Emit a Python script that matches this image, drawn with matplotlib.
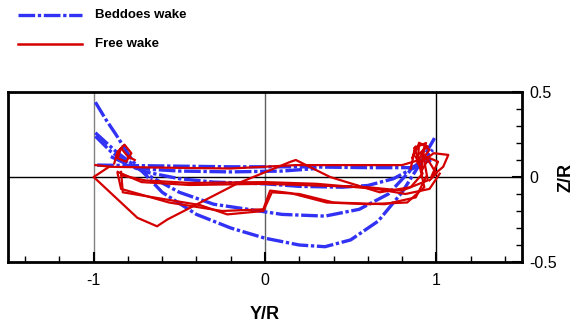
import matplotlib
matplotlib.use("Agg")
import matplotlib.pyplot as plt
from matplotlib.lines import Line2D
from matplotlib.ticker import MultipleLocator

plt.rcParams['font.family'] = ['Liberation Sans', 'DejaVu Sans']

# ---- Beddoes wake curves (Y/R, Z/R) ----
bed1_y = [-0.99, -0.93, -0.87, -0.77, -0.6, -0.4, -0.2, 0.0, 0.2, 0.35, 0.5, 0.66, 0.8, 0.9, 0.99]
bed1_z = [0.44, 0.34, 0.25, 0.09, -0.09, -0.22, -0.30, -0.36, -0.40, -0.41, -0.37, -0.26, -0.09, 0.07, 0.23]
bed2_y = [-0.99, -0.87, -0.7, -0.5, -0.3, -0.1, 0.1, 0.35, 0.55, 0.72, 0.85, 0.98]
bed2_z = [0.26, 0.15, 0.02, -0.09, -0.16, -0.19, -0.22, -0.23, -0.19, -0.10, 0.04, 0.16]
bed3_y = [-0.99, -0.9, -0.8, -0.7, -0.5, -0.3, 0.0, 0.2, 0.45, 0.6, 0.75, 0.88, 0.96]
bed3_z = [0.24, 0.15, 0.08, 0.03, -0.01, -0.03, -0.04, -0.055, -0.06, -0.05, -0.01, 0.06, 0.14]
bed4_y = [-0.98, -0.6, -0.2, 0.2, 0.6, 0.85, 0.97]
bed4_z = [0.07, 0.065, 0.06, 0.06, 0.055, 0.055, 0.10]
bed5_y = [-0.9, -0.75, -0.5, -0.2, 0.1, 0.3]
bed5_z = [0.12, 0.05, 0.035, 0.03, 0.035, 0.05]

# ---- Free wake curves (Y/R, Z/R) ----
fw1_y = [-0.91, -1.0, -0.745, -0.63, -0.57, -0.165, 0.15, 0.18, 0.38, 0.67, 0.85, 0.92, 0.88, 0.95, 0.9]
fw1_z = [0.06, 0.0, -0.24, -0.29, -0.25, -0.04, 0.09, 0.10, 0.0, -0.09, -0.06, 0.02, 0.12, 0.18, 0.2]
fw2_y = [-0.86, -0.84, -0.56, -0.25, -0.01, 0.03, 0.15, 0.36, 0.6, 0.83, 0.93, 0.9, 0.96, 0.92]
fw2_z = [0.02, -0.07, -0.15, -0.20, -0.19, -0.08, -0.095, -0.15, -0.16, -0.15, -0.06, 0.08, 0.16, 0.19]
fw3_y = [-0.84, -0.83, -0.38, -0.22, -0.01, 0.04, 0.2, 0.4, 0.7, 0.88, 0.94]
fw3_z = [0.03, -0.09, -0.165, -0.22, -0.20, -0.09, -0.10, -0.15, -0.16, -0.12, 0.0]
fw4_y = [-0.99, -0.9, -0.6, -0.2, 0.18, 0.5, 0.8, 0.9, 0.87, 0.94, 0.91]
fw4_z = [0.07, 0.06, 0.055, 0.05, 0.07, 0.07, 0.07, 0.10, 0.17, 0.2, 0.12]
fw5_y = [-0.86, -0.72, -0.44, 0.0, 0.3, 0.6, 0.8, 0.95, 0.92]
fw5_z = [0.03, -0.03, -0.047, -0.04, -0.05, -0.06, -0.08, -0.02, 0.15]
fw6_y = [-0.84, -0.7, -0.44, 0.0, 0.3, 0.65, 0.82, 0.96, 1.02]
fw6_z = [0.01, -0.02, -0.035, -0.03, -0.04, -0.07, -0.10, -0.07, 0.02]
fw7_y = [-0.88, -0.86, -0.82, -0.78, -0.81, -0.86, -0.84, -0.8, -0.76]
fw7_z = [0.08, 0.15, 0.19, 0.14, 0.09, 0.11, 0.17, 0.12, 0.10]
fw8_y = [0.93, 0.985, 1.07, 1.04, 0.97, 1.01, 0.94, 1.0, 0.96]
fw8_z = [0.10, 0.14, 0.13, 0.06, 0.0, 0.09, 0.12, 0.02, -0.02]
fw9_y = [0.85, 0.88, 0.86, 0.9, 0.89, 0.93, 0.91, 0.95]
fw9_z = [0.05, 0.18, 0.11, 0.2, 0.08, 0.17, 0.03, 0.1]

beddoes = [(bed1_y, bed1_z), (bed2_y, bed2_z), (bed3_y, bed3_z), (bed4_y, bed4_z), (bed5_y, bed5_z)]
free = [(fw1_y, fw1_z), (fw2_y, fw2_z), (fw3_y, fw3_z), (fw4_y, fw4_z), (fw5_y, fw5_z),
        (fw6_y, fw6_z), (fw7_y, fw7_z), (fw8_y, fw8_z), (fw9_y, fw9_z)]

x_ticks = [-1, 0, 1]
y_ticks = [-0.5, 0, 0.5]
x_labels = ['-1', '0', '1']
y_labels = ['-0.5', '0', '0.5']

blue = '#3232f5'
red = '#d40000'
bstyle = (0, (5, 0.8, 1.0, 0.8))

fig = plt.figure(figsize=(5.79, 3.25), dpi=100)
ax = fig.add_axes([8 / 579, 1 - 262 / 325, 514 / 579, 170 / 325])

ax.axvline(-1, color='#808080', lw=1.0, zorder=1)
ax.axvline(0, color='#606060', lw=1.0, zorder=1)
ax.axvline(1, color='black', lw=1.0, zorder=1)
ax.axhline(0, color='black', lw=1.0, zorder=1)

for yy, zz in beddoes:
    ax.plot(yy, zz, color=blue, lw=2.4, linestyle=bstyle, zorder=2)
for yy, zz in free:
    ax.plot(yy, zz, color=red, lw=1.6, zorder=3)

ax.set_xlim(-1.5, 1.5)
ax.set_ylim(-0.5, 0.5)

for s in ax.spines.values():
    s.set_linewidth(2.0)

ax.set_xticks(x_ticks)
ax.set_xticklabels(x_labels)
ax.set_yticks(y_ticks)
ax.set_yticklabels(y_labels)
ax.xaxis.set_minor_locator(MultipleLocator(0.2))
ax.yaxis.set_minor_locator(MultipleLocator(0.1))
ax.yaxis.tick_right()
ax.yaxis.set_label_position('right')
ax.tick_params(axis='both', which='major', direction='in', length=7, width=1.5, labelsize=11.5)
ax.tick_params(axis='both', which='minor', direction='in', length=4, width=1.0)
ax.tick_params(axis='x', which='both', top=False, bottom=True, pad=8)
ax.tick_params(axis='y', which='both', left=False, right=True, pad=5)

ax.set_xlabel('Y/R', fontsize=13, fontweight='bold', labelpad=13)
ax.set_ylabel('Z/R', fontsize=13, fontweight='bold', labelpad=1)

# legend (figure-level, top-left)
W, H = 579, 325
fig.add_artist(Line2D([18 / W, 82 / W], [1 - 15 / H, 1 - 15 / H], color=blue, lw=2.4,
                      linestyle=bstyle, transform=fig.transFigure))
fig.add_artist(Line2D([18 / W, 82 / W], [1 - 44 / H, 1 - 44 / H], color=red, lw=1.8,
                      transform=fig.transFigure))
fig.text(95 / W, 1 - 15 / H, 'Beddoes wake', fontsize=9.5, fontweight='bold', va='center', ha='left')
fig.text(95 / W, 1 - 44 / H, 'Free wake', fontsize=9.5, fontweight='bold', va='center', ha='left')

fig.savefig('out.png', dpi=100)
